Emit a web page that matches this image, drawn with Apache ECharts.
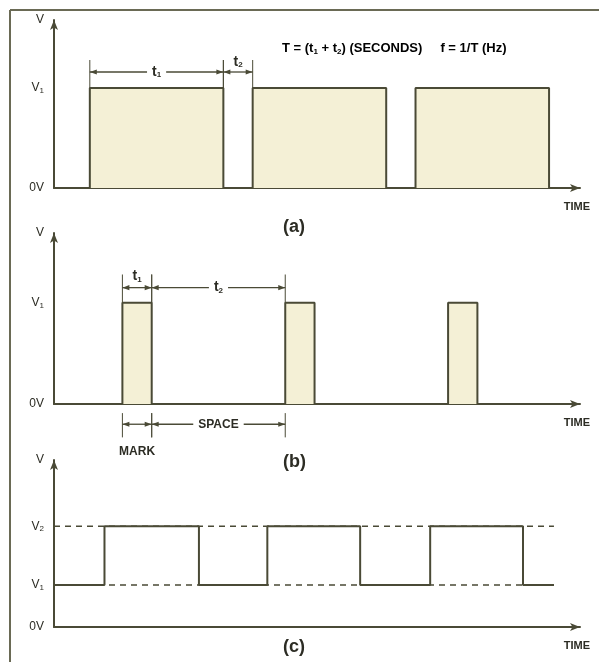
<!DOCTYPE html>
<html>
<head>
<meta charset="utf-8">
<script src="https://cdn.jsdelivr.net/npm/echarts@6/dist/echarts.min.js"></script>
<style>
  html, body { margin: 0; padding: 0; background: #fff; }
  #chart { width: 599px; height: 662px; }
</style>
</head>
<body>
<div id="chart"></div>
<script>
// time is in arbitrary units, one period = 10
var timeMax = 32.3;

// (a) square wave 0V -> V1
var pulseStartA = [2.2, 12.2, 22.2];
var pulseWidthA = [8.2, 8.2, 8.2];

// (b) mark / space pulse train
var pulseStartB = [4.2, 14.2, 24.2];
var pulseWidthB = [1.8, 1.8, 1.8];

// (c) wave switching between V1 and V2 (time of each edge, level after it)
var edgeTimeC  = [0, 3.1, 8.9, 13.1, 18.8, 23.1, 28.8, 30.7];
var edgeLevelC = [1, 2.4, 1, 2.4, 1, 2.4, 1, 1];

// voltage levels
var levelV1 = 1;          // (a) and (b)
var levelsC = [1, 2.4];   // (c): V1, V2

var ink = '#4a4a36';
var textInk = '#2c2c24';
var fill = '#f4f0d6';
var font = "'Liberation Sans', Arial, sans-serif";

function pulsePoints(starts, widths, high) {
  var pts = [[0, 0]];
  for (var i = 0; i < starts.length; i++) {
    pts.push([starts[i], high]);
    pts.push([starts[i] + widths[i], 0]);
  }
  pts.push([timeMax, 0]);
  return pts;
}

var subRich = {
  m: { fontSize: 14, fontWeight: 'bold', fontFamily: font, color: textInk },
  s: { fontSize: 8, fontWeight: 'bold', fontFamily: font, color: textInk, verticalAlign: 'bottom', lineHeight: 13 }
};
function subLabel(main, sub) { return '{m|' + main + '}{s|' + sub + '}'; }

function yLabels(map) {
  return function (v) {
    var key = String(Math.round(v * 100) / 100);
    return map[key] || '';
  };
}

var axisRich = {
  m: { fontSize: 12, fontFamily: font, color: textInk },
  s: { fontSize: 8, fontFamily: font, color: textInk, verticalAlign: 'bottom', lineHeight: 13 }
};

function xAxisCfg(idx) {
  return {
    type: 'value', gridIndex: idx, min: 0, max: timeMax,
    axisLine: { show: true, symbol: ['none', 'arrow'], symbolSize: [6, 10], lineStyle: { color: ink, width: 2 } },
    axisTick: { show: false }, axisLabel: { show: false }, splitLine: { show: false },
    name: 'TIME', nameLocation: 'end', nameGap: 10,
    nameTextStyle: { align: 'right', verticalAlign: 'top', padding: [13, 0, 0, 0], fontSize: 11, fontWeight: 'bold', fontFamily: font, color: textInk }
  };
}
function yAxisCfg(idx, max, values, labels) {
  return {
    type: 'value', gridIndex: idx, min: 0, max: max,
    axisLine: { show: true, symbol: ['none', 'arrow'], symbolSize: [6, 10], lineStyle: { color: ink, width: 2 } },
    axisTick: { show: false }, splitLine: { show: false },
    axisLabel: { customValues: values, margin: 10, formatter: yLabels(labels), rich: axisRich, fontSize: 12, fontFamily: font, color: textInk }
  };
}

// dimension lines with arrows, extension lines and a label
function dimSeries(idx, items) {
  return {
    type: 'custom', xAxisIndex: idx, yAxisIndex: idx, clip: false, silent: true, z: 5,
    data: items.map(function (d) { return [d.from, d.to]; }),
    renderItem: function (params, api) {
      var d = items[params.dataIndex];
      var a = api.coord([api.value(0), d.level]);
      var b = api.coord([api.value(1), d.level]);
      var y = a[1];
      var eTop = api.coord([0, d.extTop])[1];
      var eBot = api.coord([0, d.extBot])[1];
      var kids = [];
      [a[0], b[0]].forEach(function (x) {
        kids.push({ type: 'line', shape: { x1: x, y1: eTop, x2: x, y2: eBot }, style: { stroke: ink, lineWidth: 1 } });
      });
      kids.push({ type: 'line', shape: { x1: a[0], y1: y, x2: b[0], y2: y }, style: { stroke: ink, lineWidth: 1.3 } });
      kids.push({ type: 'polygon', shape: { points: [[a[0], y], [a[0] + 7, y - 2.6], [a[0] + 7, y + 2.6]] }, style: { fill: ink } });
      kids.push({ type: 'polygon', shape: { points: [[b[0], y], [b[0] - 7, y - 2.6], [b[0] - 7, y + 2.6]] }, style: { fill: ink } });
      var mid = (a[0] + b[0]) / 2;
      var ts = { text: d.text, rich: subRich, align: 'center', verticalAlign: 'middle', fontSize: 12, fontWeight: 'bold', fontFamily: font, fill: textInk };
      if (d.pos === 'inline') {
        ts.backgroundColor = '#fff';
        ts.padding = [0, 5];
        kids.push({ type: 'text', x: mid, y: y, style: ts });
      } else {
        kids.push({ type: 'text', x: mid + (d.dx || 0), y: y + d.dy, style: ts });
      }
      return { type: 'group', children: kids };
    }
  };
}

var endA1 = pulseStartA[0] + pulseWidthA[0];
var dimsA = [
  { from: pulseStartA[0], to: endA1, level: 1.16, extTop: 1.28, extBot: levelV1, text: subLabel('t', '1'), pos: 'inline' },
  { from: endA1, to: pulseStartA[1], level: 1.16, extTop: 1.28, extBot: levelV1, text: subLabel('t', '2'), pos: 'above', dy: -10 }
];
var endB1 = pulseStartB[0] + pulseWidthB[0];
var dimsB = [
  { from: pulseStartB[0], to: endB1, level: 1.15, extTop: 1.28, extBot: levelV1, text: subLabel('t', '1'), pos: 'above', dy: -11 },
  { from: endB1, to: pulseStartB[1], level: 1.15, extTop: 1.28, extBot: levelV1, text: subLabel('t', '2'), pos: 'inline' },
  { from: pulseStartB[0], to: endB1, level: -0.2, extTop: -0.09, extBot: -0.33, text: 'MARK', pos: 'below', dy: 27 },
  { from: endB1, to: pulseStartB[1], level: -0.2, extTop: -0.09, extBot: -0.33, text: 'SPACE', pos: 'inline' }
];

var chart = echarts.init(document.getElementById('chart'));
chart.setOption({
  backgroundColor: '#fff',
  animation: false,
  grid: [
    { left: 54, width: 526, top: 20, height: 168 },
    { left: 54, width: 526, top: 233, height: 171 },
    { left: 54, width: 526, top: 460, height: 167 }
  ],
  xAxis: [xAxisCfg(0), xAxisCfg(1), xAxisCfg(2)],
  yAxis: [
    yAxisCfg(0, 1.68, [0, levelV1, 1.68], { '0': '0V', '1': subLabel('V', '1'), '1.68': 'V' }),
    yAxisCfg(1, 1.69, [0, levelV1, 1.69], { '0': '0V', '1': subLabel('V', '1'), '1.69': 'V' }),
    yAxisCfg(2, 3.98, [0, levelsC[0], levelsC[1], 3.98], { '0': '0V', '1': subLabel('V', '1'), '2.4': subLabel('V', '2'), '3.98': 'V' })
  ],
  series: [
    {
      type: 'line', xAxisIndex: 0, yAxisIndex: 0, step: 'end', symbol: 'none', silent: true,
      data: pulsePoints(pulseStartA, pulseWidthA, levelV1),
      lineStyle: { color: ink, width: 2 }, areaStyle: { color: fill, opacity: 1 }
    },
    {
      type: 'line', xAxisIndex: 1, yAxisIndex: 1, step: 'end', symbol: 'none', silent: true,
      data: pulsePoints(pulseStartB, pulseWidthB, levelV1),
      lineStyle: { color: ink, width: 2 }, areaStyle: { color: fill, opacity: 1 }
    },
    {
      type: 'line', xAxisIndex: 2, yAxisIndex: 2, symbol: 'none', silent: true,
      data: [[edgeTimeC[0], levelsC[0]], [edgeTimeC[edgeTimeC.length - 1], levelsC[0]]],
      lineStyle: { color: ink, width: 1.5, type: [6, 5] }
    },
    {
      type: 'line', xAxisIndex: 2, yAxisIndex: 2, symbol: 'none', silent: true,
      data: [[edgeTimeC[0], levelsC[1]], [edgeTimeC[edgeTimeC.length - 1], levelsC[1]]],
      lineStyle: { color: ink, width: 1.5, type: [6, 5] }
    },
    {
      type: 'line', xAxisIndex: 2, yAxisIndex: 2, step: 'end', symbol: 'none', silent: true, z: 3,
      data: edgeTimeC.map(function (t, i) { return [t, edgeLevelC[i]]; }),
      lineStyle: { color: ink, width: 2 }
    },
    dimSeries(0, dimsA),
    dimSeries(1, dimsB)
  ],
  graphic: [
    { type: 'line', shape: { x1: 10, y1: 10, x2: 10, y2: 662 }, style: { stroke: '#6a6a55', lineWidth: 2 } },
    { type: 'line', shape: { x1: 10, y1: 10, x2: 599, y2: 10 }, style: { stroke: '#6a6a55', lineWidth: 2 } },
    {
      type: 'text', left: 282, top: 42,
      style: {
        text: '{e|T = (t}{s|1}{e| + t}{s|2}{e|) (SECONDS)     f = 1/T (Hz)}',
        rich: {
          e: { fontSize: 13, fontWeight: 'bold', fontFamily: font, color: textInk },
          s: { fontSize: 8, fontWeight: 'bold', fontFamily: font, color: textInk, verticalAlign: 'bottom', lineHeight: 14 }
        }
      }
    },
    { type: 'text', left: 283, top: 218, style: { text: '(a)', fontSize: 18, fontWeight: 'bold', fontFamily: font, fill: textInk } },
    { type: 'text', left: 283, top: 453, style: { text: '(b)', fontSize: 18, fontWeight: 'bold', fontFamily: font, fill: textInk } },
    { type: 'text', left: 283, top: 638, style: { text: '(c)', fontSize: 18, fontWeight: 'bold', fontFamily: font, fill: textInk } }
  ]
});
</script>
</body>
</html>
